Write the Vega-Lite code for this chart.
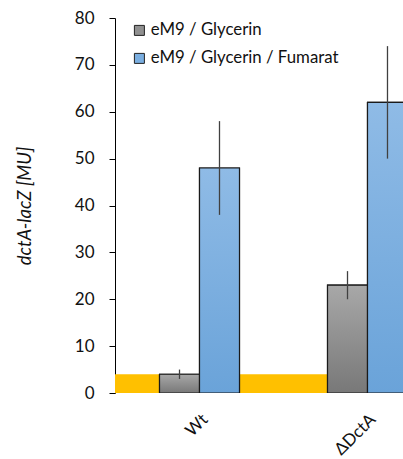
{
  "$schema": "https://vega.github.io/schema/vega-lite/v6.json",
  "autosize": {"type": "none"},
  "width": 288,
  "height": 375,
  "padding": {"left": 115, "top": 18, "right": 0, "bottom": 66},
  "background": "white",
  "config": {
    "view": {"stroke": null},
    "font": "Lato",
    "axis": {"labelFont": "Lato", "titleFont": "Lato", "labelColor": "#111", "titleColor": "#111"},
    "legend": {"labelFont": "Lato"}
  },
  "datasets": {
    "bars": [
      {"strain": "Wt", "cond": "eM9 / Glycerin", "value": 4, "lo": 3, "hi": 5},
      {"strain": "Wt", "cond": "eM9 / Glycerin / Fumarat", "value": 48, "lo": 38, "hi": 58},
      {"strain": "ΔDctA", "cond": "eM9 / Glycerin", "value": 23, "lo": 20, "hi": 26},
      {"strain": "ΔDctA", "cond": "eM9 / Glycerin / Fumarat", "value": 62, "lo": 50, "hi": 74}
    ],
    "band": [{"base": 0, "thr": 4}]
  },
  "encoding": {
    "y": {
      "type": "quantitative",
      "scale": {"domain": [0, 80], "nice": false},
      "axis": {
        "values": [0, 10, 20, 30, 40, 50, 60, 70, 80],
        "grid": false,
        "domainColor": "#000",
        "tickColor": "#000",
        "tickSize": 6,
        "labelPadding": 15,
        "labelFontSize": 17,
        "title": "dctA-lacZ [MU]",
        "titleFontStyle": "italic",
        "titleFontWeight": "normal",
        "titleFontSize": 18.5,
        "titlePadding": 40
      }
    }
  },
  "layer": [
    {
      "data": {"name": "band"},
      "mark": {"type": "rect", "color": "#ffc000"},
      "encoding": {
        "y": {"field": "base", "type": "quantitative"},
        "y2": {"field": "thr"}
      }
    },
    {
      "data": {"name": "bars"},
      "mark": {"type": "bar", "clip": true, "stroke": "#1a1a1a", "strokeWidth": 1.2},
      "encoding": {
        "x": {
          "field": "strain", "type": "nominal",
          "scale": {"domain": ["Wt", "ΔDctA"], "range": [0, 337], "paddingInner": 0.524, "paddingOuter": 0.265},
          "axis": {"title": null, "labelAngle": -45, "domain": false, "ticks": false, "labelFontSize": 17, "labelPadding": 18}
        },
        "xOffset": {"field": "cond", "type": "nominal", "scale": {"domain": ["eM9 / Glycerin", "eM9 / Glycerin / Fumarat"], "paddingInner": 0, "paddingOuter": 0}},
        "y": {"field": "value", "type": "quantitative"},
        "fill": {
          "field": "cond", "type": "nominal",
          "scale": {"domain": ["eM9 / Glycerin", "eM9 / Glycerin / Fumarat"], "range": ["#909090", "#7aaee0"]},
          "legend": {
            "title": null,
            "orient": "none",
            "legendX": 16,
            "legendY": 4,
            "padding": 0,
            "symbolType": "square",
            "symbolSize": 100,
            "symbolStrokeColor": "#222",
            "symbolStrokeWidth": 1,
            "labelFontSize": 16.8,
            "labelColor": "#111",
            "labelOffset": 3,
            "labelLimit": 400,
            "rowPadding": 10
          }
        }
      }
    },
    {
      "data": {"name": "bars"},
      "mark": {"type": "bar", "clip": true, "stroke": "#1a1a1a", "strokeWidth": 1.2},
      "encoding": {
        "x": {"field": "strain", "type": "nominal"},
        "xOffset": {"field": "cond", "type": "nominal"},
        "y": {"field": "value", "type": "quantitative"},
        "fill": {
          "condition": {
            "test": "datum.cond === 'eM9 / Glycerin'",
            "value": {"gradient": "linear", "x1": 0, "y1": 0, "x2": 0, "y2": 1, "stops": [{"offset": 0, "color": "#a8a8a8"}, {"offset": 1, "color": "#787878"}]}
          },
          "value": {"gradient": "linear", "x1": 0, "y1": 0, "x2": 0, "y2": 1, "stops": [{"offset": 0, "color": "#8fbbe6"}, {"offset": 1, "color": "#6aa3d9"}]}
        }
      }
    },
    {
      "data": {"name": "bars"},
      "mark": {"type": "rule", "clip": true, "color": "#404040", "strokeWidth": 1.3},
      "encoding": {
        "x": {"field": "strain", "type": "nominal"},
        "xOffset": {"field": "cond", "type": "nominal"},
        "y": {"field": "lo", "type": "quantitative"},
        "y2": {"field": "hi"}
      }
    }
  ]
}
